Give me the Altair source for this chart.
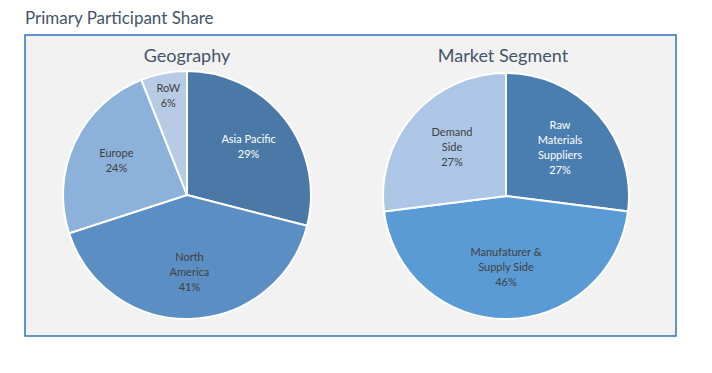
import altair as alt
import pandas as pd

# ---- data ----
geo_cats = ["Asia Pacific", "North America", "Europe", "RoW"]
geo_vals = [29, 41, 24, 6]
geo_labels = ["Asia Pacific\n29%", "North\nAmerica\n41%", "Europe\n24%", "RoW\n6%"]
geo_colors = ["#4a79a8", "#5b8fc4", "#8cb1db", "#b7cce4"]

seg_cats = ["Raw Materials Suppliers", "Manufaturer & Supply Side", "Demand Side"]
seg_vals = [27, 46, 27]
seg_labels = ["Raw\nMaterials\nSuppliers\n27%", "Manufaturer &\nSupply Side\n46%", "Demand\nSide\n27%"]
seg_colors = ["#4a7eb0", "#5b9bd5", "#adc6e5"]

main_title = "Primary Participant Share"
pie_titles = ["Geography", "Market Segment"]

rows = []
for i, (c, v, l) in enumerate(zip(geo_cats, geo_vals, geo_labels)):
    rows.append({"pie": "geo", "order": i, "category": c, "value": v, "label": l})
for i, (c, v, l) in enumerate(zip(seg_cats, seg_vals, seg_labels)):
    rows.append({"pie": "seg", "order": i, "category": c, "value": v, "label": l})
df = pd.DataFrame(rows)

color_scale = alt.Scale(domain=geo_cats + seg_cats, range=geo_colors + seg_colors)
dark_cats = ["Asia Pacific", "Raw Materials Suppliers"]

FONT = "Lato"
TXT = "#44546a"
LH = 15

dummy = pd.DataFrame({"a": [0]})

box = alt.Chart(dummy).mark_rect(fill="#f2f2f2", stroke="#2e75b6", strokeWidth=1.5).encode(
    x=alt.value(17), x2=alt.value(668), y=alt.value(27), y2=alt.value(328)
)

title = alt.Chart(dummy).mark_text(
    align="left", baseline="alphabetic", font=FONT, fontSize=17, color=TXT
).encode(x=alt.value(17), y=alt.value(16), text=alt.value(main_title))

def pie(key, cx, cy, r, label_r, sub, sub_x, sub_y, far_cat="", far_r=0):
    base = alt.Chart(df).transform_filter(alt.datum.pie == key)
    arc = base.mark_arc(outerRadius=r, stroke="white", strokeWidth=2).encode(
        theta=alt.Theta("value:Q", stack=True),
        order=alt.Order("order:Q"),
        color=alt.Color("category:N", scale=color_scale, legend=None),
        x=alt.value(cx), y=alt.value(cy),
    )
    txt = base.transform_joinaggregate(
        total="sum(value)"
    ).transform_window(
        cum="sum(value)", sort=[alt.SortField("order")], frame=[None, 0]
    ).transform_calculate(
        ang="2 * PI * (datum.cum - datum.value / 2) / datum.total",
        lr=f"datum.category == '{far_cat}' ? {far_r} : {label_r}",
        nl="length(split(datum.label, '\\n'))",
    ).transform_calculate(
        px=f"{cx} + datum.lr * sin(datum.ang)",
        py=f"{cy} - datum.lr * cos(datum.ang) - (datum.nl - 1) / 2 * {LH}",
    ).mark_text(
        font=FONT, fontSize=11, lineBreak="\n", lineHeight=LH, baseline="middle", align="center"
    ).encode(
        x=alt.X("px:Q", scale=None),
        y=alt.Y("py:Q", scale=None),
        text="label:N",
        color=alt.condition(alt.FieldOneOfPredicate(field="category", oneOf=dark_cats),
                            alt.value("white"), alt.value("#404040")),
    )
    st = alt.Chart(dummy).mark_text(
        align="center", baseline="alphabetic", font=FONT, fontSize=18, color=TXT
    ).encode(x=alt.value(sub_x), y=alt.value(sub_y), text=alt.value(sub))
    return alt.layer(arc, txt, st)

left = pie("geo", 179, 187, 124, 78, pie_titles[0], 179, 54, far_cat="RoW", far_r=100)
right = pie("seg", 498, 188, 123, 72, pie_titles[1], 495, 54)

chart = alt.layer(box, title, left, right).properties(
    width=696, height=357, padding=0, autosize=alt.AutoSizeParams(type="none"),
    background="white"
).configure_view(stroke=None).resolve_scale(theta="independent")

chart.save("out.html", embed_options={"renderer": "svg", "actions": False})
